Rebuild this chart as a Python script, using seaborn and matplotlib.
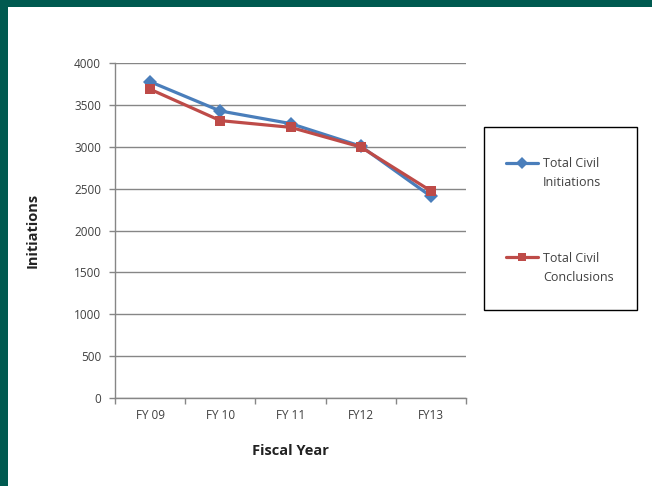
import numpy as np
import pandas as pd
import matplotlib
matplotlib.use("Agg")
import matplotlib.pyplot as plt
from matplotlib.patches import Rectangle
from matplotlib.legend_handler import HandlerLine2D
import seaborn as sns

# Civil case counts by fiscal year
years = ["FY 09", "FY 10", "FY 11", "FY12", "FY13"]
initiations = [3780, 3430, 3280, 3010, 2410]
conclusions = [3690, 3315, 3235, 3000, 2475]
series_names = ["Total Civil\nInitiations", "Total Civil\nConclusions"]
y_ticks = [0, 500, 1000, 1500, 2000, 2500, 3000, 3500, 4000]

df = pd.DataFrame({
    "year": years * 2,
    "value": initiations + conclusions,
    "series": [series_names[0]] * len(years) + [series_names[1]] * len(years),
})

sns.set_style("white")
plt.rcParams["font.family"] = ["Open Sans", "DejaVu Sans"]

GRID = "#868686"
TEXT = "#404040"
BLUE = "#4a7ebb"
RED = "#be4b48"
TEAL = "#005a50"


class FirstLineHandler(HandlerLine2D):
    """Line handle raised to sit beside the first row of a two-line label."""

    def __init__(self, shift, **kw):
        super().__init__(**kw)
        self.shift = shift

    def create_artists(self, legend, orig_handle, xdescent, ydescent,
                       width, height, fontsize, trans):
        artists = super().create_artists(legend, orig_handle, xdescent, ydescent,
                                         width, height, fontsize, trans)
        for a in artists:
            a.set_ydata(np.asarray(a.get_ydata(), dtype=float) + self.shift)
        return artists


fig = plt.figure(figsize=(6.52, 4.86), dpi=100)
ax = fig.add_axes([115 / 652, 1 - 398 / 486, (466 - 115) / 652, (398 - 63.3) / 486])

sns.lineplot(
    data=df, x="year", y="value", hue="series", style="series",
    palette={series_names[0]: BLUE, series_names[1]: RED},
    markers={series_names[0]: "D", series_names[1]: "s"},
    dashes=False, sort=False, linewidth=2.3, markersize=7.5,
    markeredgewidth=0, ax=ax, legend=True,
)

ax.set_xlim(-0.5, len(years) - 0.5)
ax.set_ylim(0, 4000)
ax.set_yticks(y_ticks)
ax.set_xticks(np.arange(-0.5, len(years), 1.0), minor=True)

ax.yaxis.grid(True, color=GRID, linewidth=1)
ax.xaxis.grid(False)
ax.set_axisbelow(True)
for side in ["top", "right"]:
    ax.spines[side].set_visible(False)
for side in ["left", "bottom"]:
    ax.spines[side].set_color(GRID)
    ax.spines[side].set_linewidth(1)

ax.tick_params(axis="y", left=True, length=4, width=1, color=GRID,
               labelsize=8.5, labelcolor=TEXT, pad=6)
ax.tick_params(axis="x", which="major", bottom=True, length=0,
               labelsize=8.5, labelcolor=TEXT, pad=8)
ax.tick_params(axis="x", which="minor", bottom=True, length=4, width=1, color=GRID)

ax.set_xlabel("Fiscal Year", fontsize=10.5, fontweight="bold", color="#222222", labelpad=16)
ax.set_ylabel("Initiations", fontsize=10.5, fontweight="bold", color="#222222", labelpad=25)

# Legend on the right inside a black box
handles, labels = ax.get_legend_handles_labels()
ax.get_legend().remove()
leg = fig.legend(handles, labels, loc="upper left", bbox_to_anchor=(506 / 652, 1 - 157 / 486),
                 frameon=False, fontsize=9, handlelength=2.55, handletextpad=0.4,
                 labelspacing=5.0, labelcolor=TEXT, markerscale=0.8,
                 borderpad=0, borderaxespad=0,
                 handler_map={h: FirstLineHandler(7.8) for h in handles})
for t in leg.get_texts():
    t.set_linespacing(1.6)
fig.patches.append(Rectangle((484 / 652, 1 - 310 / 486), (637 - 484) / 652, (310 - 127) / 486,
                             transform=fig.transFigure, fill=False, edgecolor="black",
                             linewidth=1))

# Teal frame at top and left edges
fig.patches.append(Rectangle((0, 1 - 7 / 486), 1, 7 / 486, transform=fig.transFigure,
                             facecolor=TEAL, edgecolor="none"))
fig.patches.append(Rectangle((0, 0), 8 / 652, 1, transform=fig.transFigure,
                             facecolor=TEAL, edgecolor="none"))

fig.savefig("out.png", dpi=100)
